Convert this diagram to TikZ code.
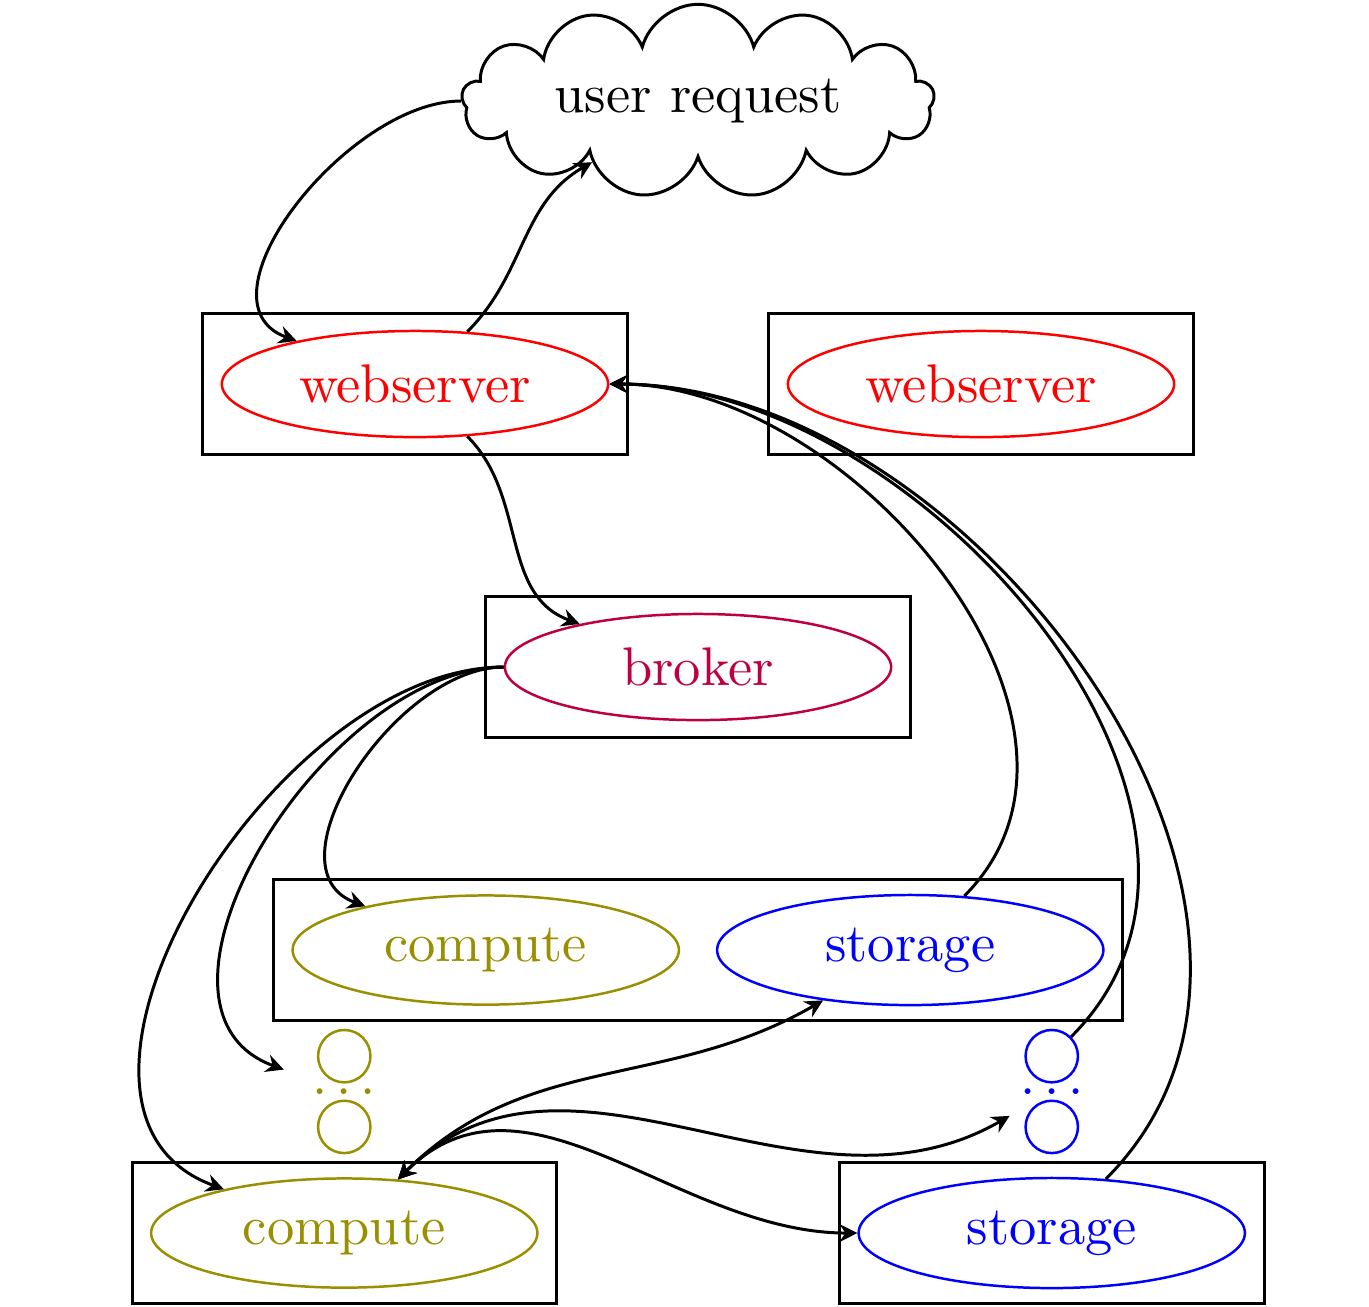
\documentclass[tikz,border=0pt]{standalone}
\usetikzlibrary{shapes.symbols,shapes.geometric,arrows.meta}
\definecolor{olivecol}{RGB}{153,143,0}
\definecolor{brokercol}{rgb}{0.75,0,0.25}
\tikzset{
  >={Stealth[length=3.6pt,width=3.6pt,inset=1.2pt]},
  host/.style={draw, rectangle, line width=0.6pt, minimum width=3cm, minimum height=1cm},
  wide host/.style={host, minimum width=6cm},
  service/.style={draw, ellipse, line width=0.5pt, minimum width=2.73cm, minimum height=0.75cm},
  replica/.style={draw, circle, line width=0.5pt, minimum size=0.37cm, inner sep=0pt},
  more/.style={minimum width=0.84cm, minimum height=0.33cm, inner sep=0pt},
  link/.style={->, line width=0.6pt},
  twoway/.style={<->, line width=0.6pt},
}

\begin{document}
\begin{tikzpicture}[font=\fontsize{10.95}{13}\selectfont]
\useasboundingbox (-4.933,-4.516) rectangle (4.742,4.714);

% the request
\node[cloud, draw, cloud puffs=13, aspect=3.5, inner sep=1pt, line width=0.6pt,
      minimum width=3.34cm] (req) at (0,4) {user request};

% hosts
\node[host] (host1) at (-2,2) {};
\node[host] (host2) at (2,2) {};
\node[host] (host3) at (0,0) {};
\node[wide host] (host4) at (0,-2) {};
\node[host] (host5) at (-2.5,-4) {};
\node[host] (host6) at (2.5,-4) {};

% services
\node[service, red] (web1) at (host1) {webserver};
\node[service, red] (web2) at (host2) {webserver};
\node[service, brokercol] (brk) at (host3) {broker};
\node[service, olivecol] (cmp1) at (-1.5,-2) {compute};
\node[service, blue] (sto1) at (1.5,-2) {storage};
\node[service, olivecol] (cmp2) at (host5) {compute};
\node[service, blue] (sto2) at (host6) {storage};

% more replicas
\node[replica, olivecol] (cmpA) at (-2.5,-2.75) {};
\node[more, olivecol] (cmpdots) at (-2.5,-3) {$\ldots$};
\node[replica, olivecol] (cmpB) at (-2.5,-3.25) {};
\node[replica, blue] (stoA) at (2.5,-2.75) {};
\node[more, blue] (stodots) at (2.5,-3) {$\ldots$};
\node[replica, blue] (stoB) at (2.5,-3.25) {};

% requests
\draw[link] (req) to[out=180,in=160] (web1);
\draw[link] (web1) to[out=45,in=210] (req);
\draw[link] (web1) to[out=-45,in=160] (brk);

% broker dispatch
\draw[link] (brk) to[out=180,in=160] (cmp1);
\draw[link] (brk) to[out=180,in=160] (cmpdots);
\draw[link] (brk) to[out=180,in=160] (cmp2);

% results back
\draw[link] (sto1) to[out=45,in=0] (web1);
\draw[link] (stoA) to[out=45,in=0] (web1);
\draw[link] (sto2) to[out=45,in=0] (web1);

% compute <-> storage
\draw[twoway] (cmp2) to[out=45,in=210] (sto1);
\draw[twoway] (cmp2) to[out=45,in=210] (stodots);
\draw[twoway] (cmp2) to[out=45,in=180] (sto2);
\end{tikzpicture}
\end{document}
